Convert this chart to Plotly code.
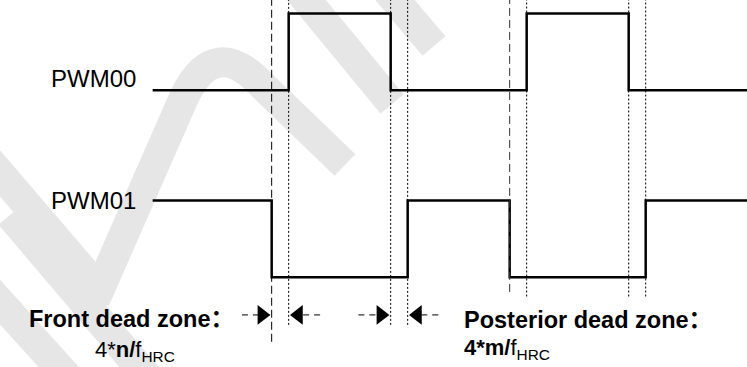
import plotly.graph_objects as go

W, H = 747, 367

# time in units of one dead time, levels 0/1
pwm00_t = [-7, 1, 7, 15, 21, 28]
pwm00_lv = [0, 1, 0, 1, 0, 0]
pwm01_t = [-7, 0, 8, 14, 22, 28]
pwm01_lv = [1, 0, 1, 0, 1, 1]
pwm00_base = 2.44

# vertical guides at the switching edges
guide_t = [0, 1, 7, 8, 14, 15, 21, 22]
guide_kind = ["dash", "dot", "dot", "dot", "dash", "dot", "dot", "dot"]
guide_low = [-0.84, -0.62, -0.62, -0.62, -0.19, -0.25, -0.25, -0.25]

# dead zone arrows (head -> tail)
arrow_head = [0, 1, 7, 8]
arrow_tail = [-1.75, 2.85, 5.1, 9.8]
arrow_y = -0.49

x_range = [-15.98, 27.96]
y_range = [-1.169, 3.615]

FONT = "Arial, Liberation Sans, Noto Sans CJK SC, sans-serif"

fig = go.Figure()

# faint watermark strokes (pixel coords)
def px(x, y):
    return f"{x / W:.4f},{1 - y / H:.4f}"

wm_strokes = [
    [("M", 378, -20), ("L", 434, 46)],
    [("M", 290, -20), ("L", 392, 104)],
    [("M", 95, 300), ("L", 185, 95), ("Q", 215, 35), ("", 262, 85), ("L", 345, 165)],
    [("M", -20, 150), ("L", 100, 290)],
    [("M", 10, 215), ("L", 150, 380)],
    [("M", -20, 280), ("L", 75, 385)],
]
for s in wm_strokes:
    path = " ".join(f"{c}{px(x, y)}" if c else px(x, y) for c, x, y in s)
    fig.add_shape(type="path", path=path, xref="paper", yref="paper", layer="below",
                  line=dict(color="#e6e6e6", width=30))

# guides
for t, kind, low in zip(guide_t, guide_kind, guide_low):
    if kind == "dash":
        ln = dict(color="#333333" if t else "black", width=1, dash="8px,4px")
    else:
        ln = dict(color="black", width=1, dash="2px,2px")
    fig.add_shape(type="line", x0=t, x1=t, y0=low, y1=y_range[1], xref="x", yref="y", line=ln)

# waveforms
fig.add_trace(go.Scatter(x=pwm00_t, y=[v + pwm00_base for v in pwm00_lv], mode="lines",
                         line=dict(color="black", width=2.5, shape="hv"), hoverinfo="skip"))
fig.add_trace(go.Scatter(x=pwm01_t, y=pwm01_lv, mode="lines",
                         line=dict(color="black", width=2.5, shape="hv"), hoverinfo="skip"))

# arrows: dashed tails + triangle heads
head_size = 17
tip = head_size / 2 * 2 / 3 ** 0.5 / 17
for h, t in zip(arrow_head, arrow_tail):
    fig.add_shape(type="line", x0=t, x1=h, y0=arrow_y, y1=arrow_y, xref="x", yref="y",
                  line=dict(color="black", width=1, dash="6px,5px"))
    right = t < h
    fig.add_trace(go.Scatter(x=[h - tip if right else h + tip], y=[arrow_y], mode="markers",
                             marker=dict(symbol="triangle-right" if right else "triangle-left",
                                         size=head_size, color="black", line=dict(width=0)),
                             hoverinfo="skip"))

# labels
def label(text, x, y, size, anchor="left"):
    fig.add_annotation(text=text, x=x, y=y, xref="paper", yref="paper", showarrow=False,
                       xanchor=anchor, yanchor="middle", font=dict(family=FONT, size=size, color="black"))

label("PWM00", 138 / W, 1 - 79 / H, 24, "right")
label("PWM01", 138 / W, 1 - 200 / H, 24, "right")
label("<b>Front dead zone：</b>", 27 / W, 1 - 319 / H, 23.5)
label("4*<b>n/</b>f<sub>HRC</sub>", 93 / W, 1 - 351 / H, 22)
label("<b>Posterior dead zone：</b>", 462 / W, 1 - 320 / H, 23.5)
label("<b>4*m/</b>f<sub>HRC</sub>", 462 / W, 1 - 349 / H, 22)

fig.update_xaxes(range=x_range, visible=False, fixedrange=True)
fig.update_yaxes(range=y_range, visible=False, fixedrange=True)
fig.update_layout(width=W, height=H, margin=dict(l=0, r=0, t=0, b=0),
                  plot_bgcolor="white", paper_bgcolor="white", showlegend=False)

fig.write_html("out.html", config={"displayModeBar": False},
               post_script="document.body.style.margin='0';")
